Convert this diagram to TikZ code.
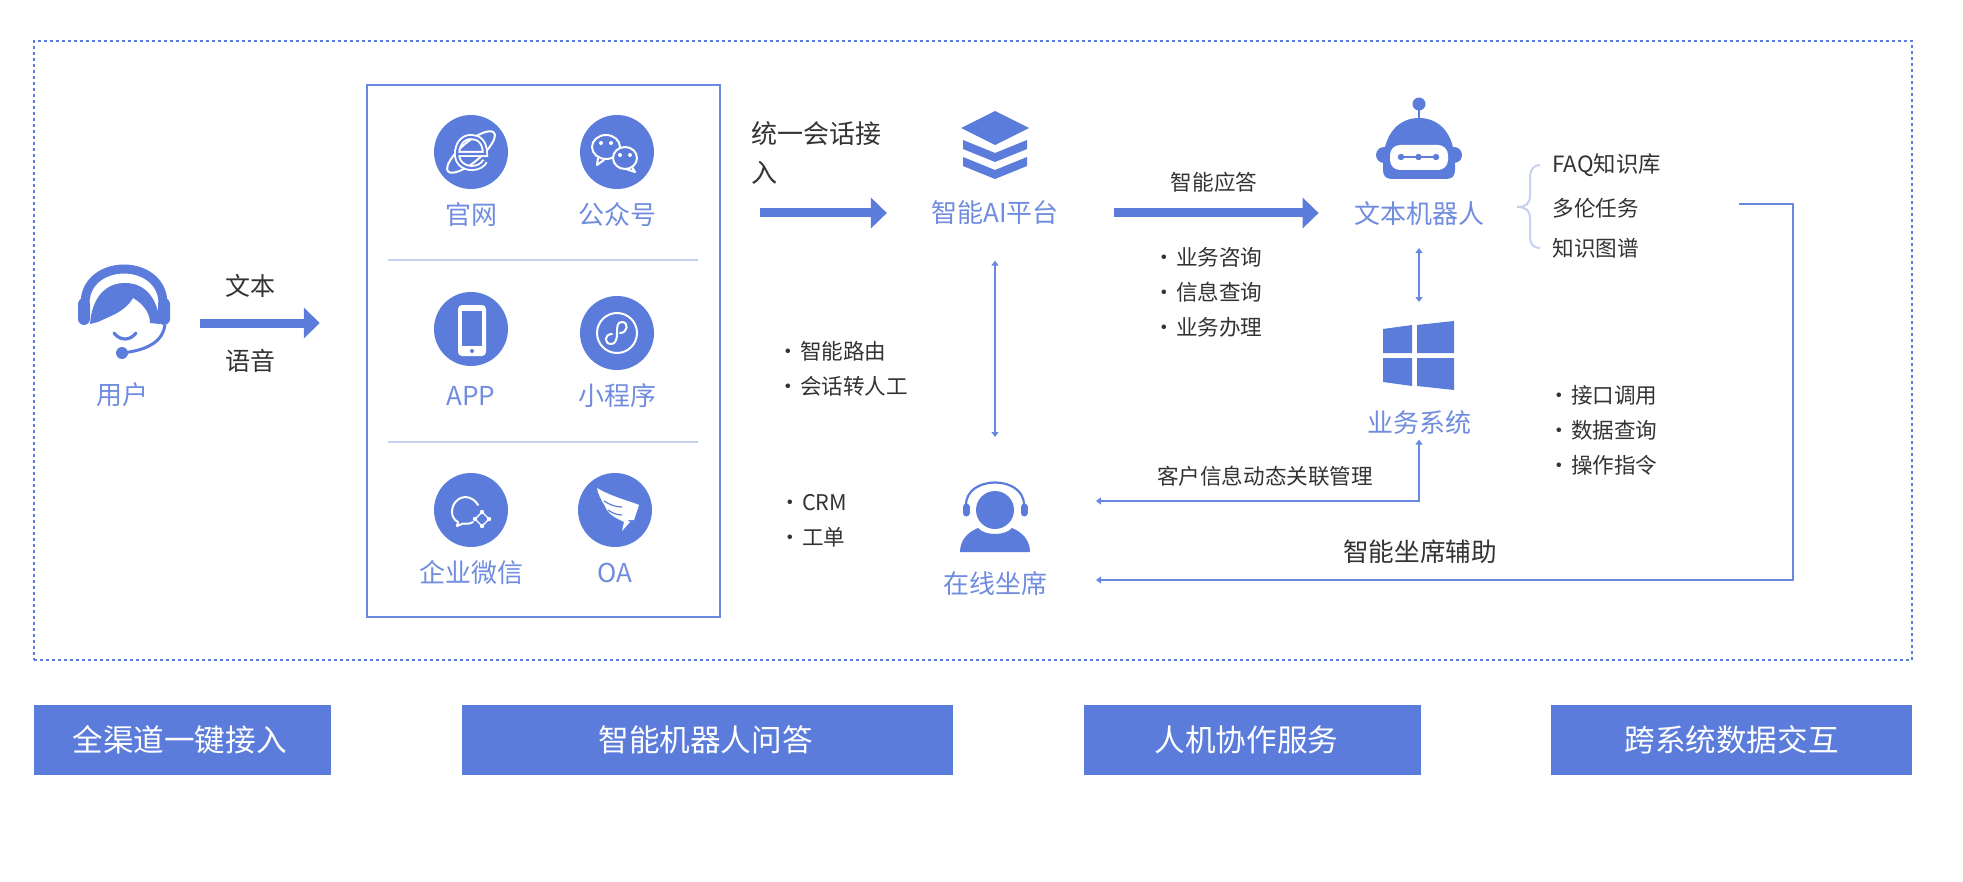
\documentclass[tikz,border=0pt]{standalone}
\usepackage{fontspec}
\setmainfont{Noto Sans CJK SC}
\usetikzlibrary{arrows.meta}
\definecolor{chanblue}{RGB}{91,124,219}
\definecolor{labelblue}{RGB}{112,140,222}
\definecolor{linkblue}{RGB}{106,136,224}
\definecolor{ruleblue}{RGB}{200,208,240}
\definecolor{inkgrey}{RGB}{51,51,51}
\tikzset{
  blue label/.style={inner sep=0pt,text=labelblue,font=\fontsize{13}{15}\selectfont,text height=11.5pt,text depth=1.7pt},
  note/.style={inner sep=0pt,text=inkgrey,font=\fontsize{10.8}{13}\selectfont,text height=9pt,text depth=1.5pt},
  note left/.style={note,anchor=west},
  badge/.style={circle,fill=chanblue,inner sep=0pt,minimum size=37pt},
  bar/.style={fill=chanblue,inner sep=0pt,text=white,minimum height=35pt,font=\fontsize{15.3}{17}\selectfont},
  bigarrow/.style={draw=chanblue,line width=4.5pt,-{Triangle[length=8pt,width=15pt]}},
  thinlink/.style={draw=linkblue,line width=1.1pt},
  smalltip/.style={{Triangle[length=2.5pt,width=3.5pt]}-{Triangle[length=2.5pt,width=3.5pt]}},
  endtip/.style={-{Triangle[length=2.5pt,width=3.5pt]}},
  glyph/.style={draw=white,line width=1pt,line cap=round,line join=round},
}
\begin{document}
\begin{tikzpicture}[x=.5pt,y=-.5pt]
  \useasboundingbox (0,0) rectangle (1963,882);
  \node[draw=chanblue,line width=1pt,dash pattern=on 1.5pt off 1.5pt,inner sep=0pt,minimum width=939pt,minimum height=309.5pt] (frame) at (973,350.5) {};
  \node[draw=linkblue,line width=1.2pt,inner sep=0pt,minimum width=176.5pt,minimum height=266pt] (portal) at (543.5,351) {};
  \draw[ruleblue,line width=1pt] (388,260) -- (698,260);
  \draw[ruleblue,line width=1pt] (388,442) -- (698,442);

  \node[blue label] (user) at (122,395) {用户};
  \fill[chanblue,rounded corners=3pt] (78,298) rectangle (90,325);
  \fill[chanblue,rounded corners=3pt] (158,298) rectangle (170,325);
  \draw[chanblue,line width=4.5pt] (85,302) .. controls (87,258) and (161,258) .. (163,302);
  \fill[chanblue] (90,324) .. controls (92,298) and (105,283) .. (125,283) .. controls (145,283) and (158,298) .. (160,324) -- (150,323) .. controls (150,312) and (142,303) .. (133,298) .. controls (125,312) and (110,316) .. (98,322) -- cycle;
  \draw[chanblue,line width=1.6pt,line cap=round] (114,333) .. controls (120,341) and (130,341) .. (136,333);
  \draw[chanblue,line width=1.5pt] (165,325) .. controls (163,340) and (150,350) .. (122,353);
  \fill[chanblue] (122,353) circle (6);

  \node[note,font=\fontsize{12.5}{15}\selectfont] (text) at (250,288) {文本};
  \node[note,font=\fontsize{12.5}{15}\selectfont] (voice) at (250,363) {语音};
  \coordinate (userout) at (200,323);
  \draw[bigarrow,shorten >=23pt] (userout) -- (userout -| portal.west);

  \node[badge] (web) at (471,152) {};
  \draw[glyph,rotate around={40:(471,152)}] (471,152) ellipse [x radius=30,y radius=10];
  \draw[white,line width=3pt] (458,154) -- (485,154) .. controls (485,141) and (478,137) .. (471,137) .. controls (462,137) and (457,145) .. (457,154) .. controls (457,163) and (464,168) .. (472,168) .. controls (478,168) and (483,165) .. (485,161);
  \draw[chanblue,line width=1.1pt] (458,154) -- (485,154) .. controls (485,141) and (478,137) .. (471,137) .. controls (462,137) and (457,145) .. (457,154) .. controls (457,163) and (464,168) .. (472,168) .. controls (478,168) and (483,165) .. (485,161);
  \node[blue label] (weblabel) at (471,215) {官网};

  \node[badge] (wechat) at (617,152) {};
  \draw[glyph] (606,147) ellipse [x radius=14,y radius=12];
  \draw[glyph] (598,158) -- (597,165) -- (604,160);
  \draw[glyph,fill=chanblue] (625,158) ellipse [x radius=12,y radius=11];
  \draw[glyph] (632,167) -- (635,172) -- (626,169);
  \fill[white] (601,143) circle (2) (611,143) circle (2) (620,155) circle (2) (630,155) circle (2);
  \node[blue label] (wechatlabel) at (617,215) {公众号};

  \node[badge] (app) at (471,329) {};
  \fill[white,rounded corners=2pt] (458,305) rectangle (486,356);
  \fill[chanblue] (462,311) rectangle (482,346);
  \fill[chanblue] (472,351) circle (2);
  \node[blue label] (applabel) at (471,396) {APP};

  \node[badge] (mini) at (617,333) {};
  \draw[glyph] (617,333) circle (20);
  \draw[glyph] (620,333) .. controls (628,333) and (629,322) .. (622,322) .. controls (617,322) and (617,327) .. (617,333) .. controls (617,342) and (614,344) .. (611,344) .. controls (604,344) and (604,334) .. (612,334);
  \node[blue label] (minilabel) at (617,396) {小程序};

  \node[badge] (wecom) at (471,510) {};
  \draw[glyph] (478,505) .. controls (476,501) and (471,497) .. (465,497) .. controls (460,497) and (452,502) .. (452,512) .. controls (452,516) and (454,520) .. (458,522) -- (457,526) -- (463,523.5) .. controls (466,524) and (470,524) .. (473,522);
  \draw[glyph,line width=.7pt] (482,512) -- (489,519) -- (482,526) -- (475,519) -- cycle;
  \fill[white] (482,512) circle (2.2) (489,519) circle (2.2) (482,526) circle (2.2) (475,519) circle (2.2);
  \node[blue label] (wecomlabel) at (471,573) {企业微信};

  \node[badge] (oa) at (615,510) {};
  \fill[white] (597,488) .. controls (612,497) and (630,501) .. (639,505) -- (634,520) -- (627,520) -- (630,522) -- (622,531) -- (624,522) -- (618,519) .. controls (610,515) and (606,510) .. (605,506) .. controls (601,500) and (598,494) .. (597,488) -- cycle;
  \draw[chanblue,line width=.6pt] (604,501) .. controls (610,505) and (616,507) .. (622,507);
  \draw[chanblue,line width=.6pt] (608,510) .. controls (612,513) and (617,515) .. (622,515);
  \node[blue label] (oalabel) at (615,573) {OA};

  \node[inner sep=0pt,anchor=west,align=left,text=inkgrey,font=\fontsize{13}{19.5}\selectfont] (unify) at (751,153) {统一会话接\\入};

  \fill[chanblue] (995,111) -- (1029,128) -- (995,145) -- (961,128) -- cycle;
  \fill[chanblue] (963,140) -- (995,153) -- (1027,140) -- (1027,149) -- (995,162) -- (963,149) -- cycle;
  \fill[chanblue] (963,157) -- (995,170) -- (1027,157) -- (1027,166) -- (995,179) -- (963,166) -- cycle;
  \node[blue label] (aiplat) at (995,213) {智能AI平台};
  \draw[bigarrow,shorten <=19.5pt,shorten >=22pt] (portal.east |- aiplat) -- (aiplat.west);

  \fill[chanblue] (1419,104) circle (6.5);
  \draw[chanblue,line width=1.2pt] (1419,104) -- (1419,120);
  \fill[chanblue] (1384,155) circle (8) (1454,155) circle (8);
  \fill[chanblue] (1383,165) .. controls (1383,132) and (1400,118) .. (1419,118) .. controls (1438,118) and (1455,132) .. (1455,165) -- (1455,170) .. controls (1455,176) and (1452,179) .. (1446,179) -- (1392,179) .. controls (1386,179) and (1383,176) .. (1383,170) -- cycle;
  \fill[white,rounded corners=5pt] (1390,145) rectangle (1448,170);
  \draw[chanblue,line width=.8pt] (1401,157) -- (1436,157);
  \fill[chanblue] (1401,157) circle (3.2) (1418.5,157) circle (3.2) (1436,157) circle (3.2);
  \node[blue label] (robot) at (1419,214) {文本机器人};
  \draw[bigarrow,shorten <=27.5pt,shorten >=17.5pt] (aiplat.east) -- (aiplat.east -| robot.west);

  \node[note] (answer) at (1214,183) {智能应答};
  \node[note left] (consult) at (1153,258) {·\hspace{.5pt}业务咨询};
  \node[note left] (query) at (1153,293) {·\hspace{.5pt}信息查询};
  \node[note left] (handle) at (1153,328) {·\hspace{.5pt}业务办理};

  \draw[ruleblue,line width=1pt] (1517,207) .. controls (1526,207) and (1530,204) .. (1530,195) -- (1530,178) .. controls (1530,169) and (1534,165) .. (1540,165);
  \draw[ruleblue,line width=1pt] (1517,207) .. controls (1526,207) and (1530,210) .. (1530,219) -- (1530,236) .. controls (1530,245) and (1534,248) .. (1540,248);
  \node[note left,font=\fontsize{11.2}{13}\selectfont] (faq) at (1552,165) {FAQ知识库};
  \node[note left] (multi) at (1552,209) {多伦任务};
  \node[note left] (graph) at (1552,249) {知识图谱};

  \fill[chanblue] (1383,329) -- (1412,325) -- (1412,353) -- (1383,353) -- cycle;
  \fill[chanblue] (1417,325) -- (1454,321) -- (1454,353) -- (1417,353) -- cycle;
  \fill[chanblue] (1383,358) -- (1412,358) -- (1412,386) -- (1383,382) -- cycle;
  \fill[chanblue] (1417,358) -- (1454,358) -- (1454,390) -- (1417,386) -- cycle;
  \node[blue label] (bizsys) at (1419,423) {业务系统};
  \coordinate (winicon) at (1419,321);
  \draw[thinlink,smalltip,shorten <=10.2pt,shorten >=9.5pt] (robot.south) -- (winicon);

  \node[note left] (api) at (1548,396) {·\hspace{.5pt}接口调用};
  \node[note left] (data) at (1548,431) {·\hspace{.5pt}数据查询};
  \node[note left] (order) at (1548,466) {·\hspace{.5pt}操作指令};

  \node[note left] (route) at (777,352) {·\hspace{.5pt}智能路由};
  \node[note left] (human) at (777,387) {·\hspace{.5pt}会话转人工};
  \node[note left] (crm) at (779,503) {·\hspace{.5pt}CRM};
  \node[note left] (ticket) at (779,538) {·\hspace{.5pt}工单};

  \fill[chanblue] (995,510) circle (19);
  \draw[chanblue,line width=1.1pt] (966,505) .. controls (966,475) and (1024,475) .. (1024,505);
  \draw[chanblue,line width=3.5pt,line cap=round] (966,507) -- (966,513);
  \draw[chanblue,line width=3.5pt,line cap=round] (1024,507) -- (1024,513);
  \fill[chanblue] (960,552) .. controls (960,540) and (968,532) .. (978,528) .. controls (985,536) and (1005,536) .. (1012,528) .. controls (1022,532) and (1030,540) .. (1030,552) -- cycle;
  \node[blue label] (agent) at (995,584) {在线坐席};
  \coordinate (agenticon) at (995,482);
  \draw[thinlink,smalltip,shorten <=17pt,shorten >=22.5pt] (aiplat.south) -- (agenticon);

  \coordinate (custin) at (1096,501);
  \draw[thinlink,smalltip,shorten <=1.5pt] (bizsys.south) -- (bizsys.south |- custin) -- (custin);
  \node[note] (custlink) at (1265,477) {客户信息动态关联管理};

  \coordinate (assistout) at (1739,204);
  \coordinate (assistturn) at (1793,580);
  \coordinate (assistin) at (1096,580);
  \draw[thinlink,endtip] (assistout) -| (assistturn) -- (assistin);
  \node[note,font=\fontsize{12.8}{15}\selectfont] (assist) at (1420,554) {智能坐席辅助};

  \node[bar,minimum width=148.5pt] (allchan) at (182.5,740) {\hspace*{-3pt}全渠道一键接入};
  \node[bar,minimum width=245.5pt] (qna) at (707.5,740) {\hspace*{-2pt}智能机器人问答};
  \node[bar,minimum width=168.5pt] (handoff) at (1252.5,740) {\hspace*{-6pt}人机协作服务};
  \node[bar,minimum width=180.5pt] (crossdata) at (1731.5,740) {跨系统数据交互};
\end{tikzpicture}
\end{document}
